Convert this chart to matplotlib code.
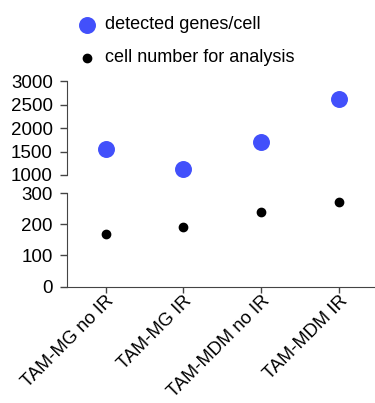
import matplotlib
matplotlib.use('Agg')
import matplotlib.pyplot as plt

plt.rcParams['font.family'] = ['Liberation Sans', 'DejaVu Sans']

groups = ['TAM-MG no IR', 'TAM-MG IR', 'TAM-MDM no IR', 'TAM-MDM IR']
genes_per_cell = [1557, 1122, 1714, 2622]   # detected genes/cell
cell_number = [170, 191, 238, 270]          # cell number for analysis

blue = '#4250fb'
x = range(len(groups))

fig = plt.figure(figsize=(3.75, 4.03), dpi=100)
ax_top = fig.add_axes([0.178, 0.566, 0.83, 0.232])
ax_bot = fig.add_axes([0.178, 0.289, 0.83, 0.232])

h1 = ax_top.scatter(x, genes_per_cell, s=125, color=blue, zorder=3, clip_on=False)
h2 = ax_bot.scatter(x, cell_number, s=36, color='black', zorder=3, clip_on=False)

for ax in (ax_top, ax_bot):
    ax.set_xlim(-0.5, 3.5)
    ax.spines['top'].set_visible(False)
    ax.spines['right'].set_visible(False)
    ax.spines['left'].set_color('#444444')
    ax.spines['bottom'].set_color('#444444')
    ax.tick_params(axis='y', labelsize=13.5, length=5, width=1, color='#444444', pad=5)

ax_top.set_ylim(1000, 3000)
ax_top.set_yticks([1000, 1500, 2000, 2500, 3000])
ax_top.spines['bottom'].set_visible(False)
ax_top.tick_params(axis='x', bottom=False, labelbottom=False)

ax_bot.set_ylim(0, 300)
ax_bot.set_yticks([0, 100, 200, 300])
ax_bot.set_xticks(list(x))
ax_bot.set_xticklabels(groups, rotation=45, ha='right', rotation_mode='anchor', fontsize=13.2)
ax_bot.tick_params(axis='x', length=4, width=1, color='#444444', pad=0)

fig.legend([h1, h2], ['detected genes/cell', 'cell number for analysis'],
           loc='upper left', bbox_to_anchor=(0.14, 1.0), frameon=False,
           fontsize=13, handletextpad=0.0, labelspacing=0.9,
           scatterpoints=1)

fig.savefig('out.png', dpi=100)
